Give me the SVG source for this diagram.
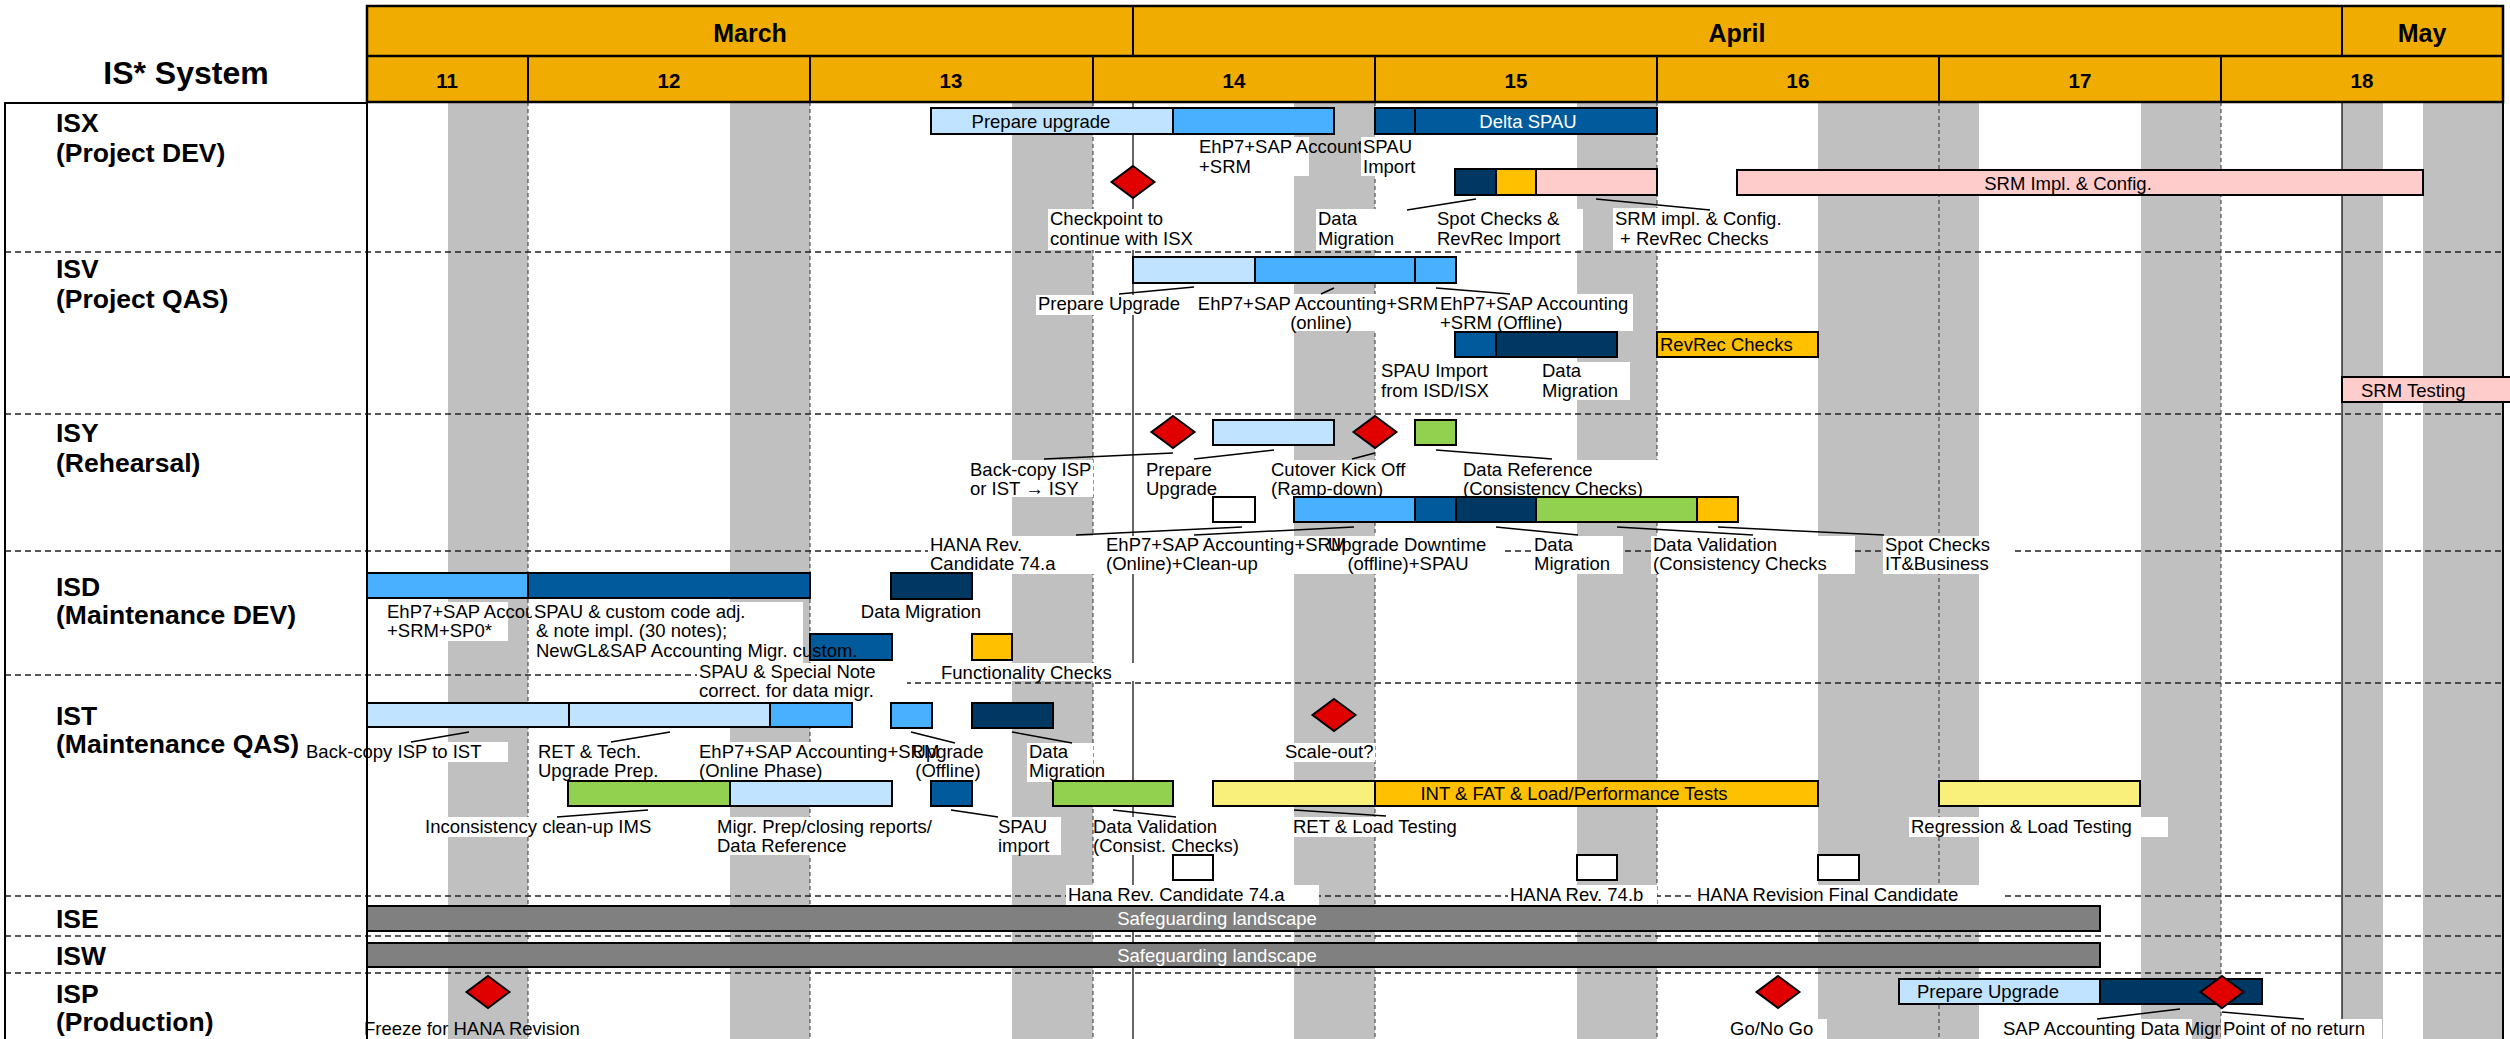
<svg xmlns="http://www.w3.org/2000/svg" xmlns:xlink="http://www.w3.org/1999/xlink" width="2510" height="1039" viewBox="0 0 2510 1039">
<style>
.t{font-family:"Liberation Sans",Arial,sans-serif;font-size:18.5px;fill:#000}
.c{text-anchor:middle}
.w{fill:#fff}
.hb{font-family:"Liberation Sans",Arial,sans-serif;font-weight:bold;fill:#000}
.mn{font-size:25px}
.wn{font-size:20.5px}
.rl{font-size:26.5px}
.bar{stroke:#000;stroke-width:2}
.lb{fill:#C0E4FF}.mb{fill:#48B0FF}.db{fill:#005A9C}.nv{fill:#003864}.am{fill:#FFC000}.pk{fill:#FFCCCC}.gr{fill:#92D050}.ye{fill:#F8F07A}.dg{fill:#808080}.wh{fill:#fff}
.bg{fill:#fff}
.sep{stroke:#222;stroke-width:1.5;stroke-dasharray:6 4;fill:none}
.wk{stroke:#333;stroke-width:1;stroke-dasharray:4 3}
.mo{stroke:#000;stroke-width:1.2}
.ld{stroke:#000;stroke-width:1.5;fill:none}
.we{fill:#C0C0C0}
</style>
<defs>
<path id="dia" d="M0,-16 L21.5,0 L0,16 L-21.5,0Z" fill="#E00000" stroke="#000" stroke-width="2"/>
</defs>
<rect x="0" y="0" width="2510" height="1039" fill="#fff"/>
<g id="weekends">
<rect class="we" x="448" y="102" width="80" height="937"/>
<rect class="we" x="730" y="102" width="80" height="937"/>
<rect class="we" x="1012" y="102" width="81" height="937"/>
<rect class="we" x="1294" y="102" width="81" height="937"/>
<rect class="we" x="1577" y="102" width="80" height="937"/>
<rect class="we" x="1818" y="102" width="161" height="937"/>
<rect class="we" x="2141" y="102" width="80" height="937"/>
<rect class="we" x="2342" y="102" width="41" height="937"/>
<rect class="we" x="2423" y="102" width="80" height="937"/>
</g>
<g id="grid">
<line class="wk" x1="528" y1="102" x2="528" y2="1039"/>
<line class="wk" x1="810" y1="102" x2="810" y2="1039"/>
<line class="wk" x1="1093" y1="102" x2="1093" y2="1039"/>
<line class="wk" x1="1375" y1="102" x2="1375" y2="1039"/>
<line class="wk" x1="1657" y1="102" x2="1657" y2="1039"/>
<line class="wk" x1="1939" y1="102" x2="1939" y2="1039"/>
<line class="wk" x1="2221" y1="102" x2="2221" y2="1039"/>
<line class="mo" x1="1133" y1="102" x2="1133" y2="1039"/>
<line class="mo" x1="2342" y1="102" x2="2342" y2="1039"/>
<line class="sep" x1="5" y1="252" x2="2503" y2="252"/>
<line class="sep" x1="5" y1="414" x2="2503" y2="414"/>
<line class="sep" x1="5" y1="551" x2="2503" y2="551"/>
<line class="sep" x1="5" y1="675" x2="700" y2="675"/>
<line class="sep" x1="905" y1="683" x2="2503" y2="683"/>
<line class="sep" x1="5" y1="896" x2="2503" y2="896"/>
<line class="sep" x1="5" y1="936" x2="2503" y2="936"/>
<line class="sep" x1="5" y1="973" x2="2503" y2="973"/>
<path d="M5,1039 V103 H367" stroke="#000" stroke-width="2" fill="none"/>
<line x1="367" y1="102" x2="367" y2="1039" stroke="#000" stroke-width="2"/>
<line x1="2503" y1="102" x2="2503" y2="1039" stroke="#000" stroke-width="2"/>
</g>
<g id="header">
<rect x="367" y="6" width="2136" height="96" fill="#F0AC00" stroke="#000" stroke-width="2.5"/>
<line x1="367" y1="56" x2="2503" y2="56" stroke="#000" stroke-width="2.5"/>
<line x1="1133" y1="6" x2="1133" y2="56" stroke="#000" stroke-width="2"/>
<line x1="2342" y1="6" x2="2342" y2="56" stroke="#000" stroke-width="2"/>
<g stroke="#000" stroke-width="2">
<line x1="528" y1="56" x2="528" y2="102"/><line x1="810" y1="56" x2="810" y2="102"/><line x1="1093" y1="56" x2="1093" y2="102"/><line x1="1375" y1="56" x2="1375" y2="102"/><line x1="1657" y1="56" x2="1657" y2="102"/><line x1="1939" y1="56" x2="1939" y2="102"/><line x1="2221" y1="56" x2="2221" y2="102"/>
</g>
<text class="hb c mn" x="750" y="42">March</text>
<text class="hb c mn" x="1737" y="42">April</text>
<text class="hb c mn" x="2422" y="42">May</text>
<text class="hb c wn" x="447" y="88">11</text><text class="hb c wn" x="669" y="88">12</text><text class="hb c wn" x="951" y="88">13</text><text class="hb c wn" x="1234" y="88">14</text><text class="hb c wn" x="1516" y="88">15</text><text class="hb c wn" x="1798" y="88">16</text><text class="hb c wn" x="2080" y="88">17</text><text class="hb c wn" x="2362" y="88">18</text>
<text class="hb c" style="font-size:32px" x="186" y="84">IS* System</text>
</g>
<g id="row-labels">
<text class="hb rl" x="56" y="132">ISX</text><text class="hb rl" x="56" y="162">(Project DEV)</text>
<text class="hb rl" x="56" y="278">ISV</text><text class="hb rl" x="56" y="308">(Project QAS)</text>
<text class="hb rl" x="56" y="442">ISY</text><text class="hb rl" x="56" y="472">(Rehearsal)</text>
<text class="hb rl" x="56" y="596">ISD</text><text class="hb rl" x="56" y="624">(Maintenance DEV)</text>
<text class="hb rl" x="56" y="725">IST</text><text class="hb rl" x="56" y="753">(Maintenance QAS)</text>
<text class="hb rl" x="56" y="928">ISE</text>
<text class="hb rl" x="56" y="965">ISW</text>
<text class="hb rl" x="56" y="1003">ISP</text><text class="hb rl" x="56" y="1031">(Production)</text>
</g>

<g id="isx-prepare"><rect class="bar lb" x="931" y="108" width="242" height="26"/><rect class="bar mb" x="1173" y="108" width="161" height="26"/><text class="t c" x="1041" y="128">Prepare upgrade</text></g>
<g id="isx-ehp7-label"><rect class="bg" x="1196" y="137" width="113" height="39"/><text class="t" x="1199" y="153">EhP7+SAP Account</text><text class="t" x="1199" y="173">+SRM</text></g>
<g id="isx-delta-spau"><rect class="bar db" x="1375" y="108" width="40" height="26"/><rect class="bar db" x="1415" y="108" width="242" height="26"/><text class="t c w" x="1528" y="128">Delta SPAU</text></g>
<g id="isx-spau-import-label"><rect class="bg" x="1361" y="137" width="54" height="39"/><text class="t" x="1363" y="153">SPAU</text><text class="t" x="1363" y="173">Import</text></g>
<g id="isx-checkpoint"><use href="#dia" x="1133" y="182"/><rect class="bg" x="1048" y="209" width="150" height="41"/><text class="t" x="1050" y="225">Checkpoint to</text><text class="t" x="1050" y="245">continue with ISX</text></g>
<g id="isx-impl-bars"><rect class="bar nv" x="1455" y="169" width="41" height="26"/><rect class="bar am" x="1496" y="169" width="40" height="26"/><rect class="bar pk" x="1536" y="169" width="121" height="26"/></g>
<g id="isx-data-migration-label"><rect class="bg" x="1316" y="209" width="82" height="41"/><text class="t" x="1318" y="225">Data</text><text class="t" x="1318" y="245">Migration</text></g>
<g id="isx-spot-checks-label"><rect class="bg" x="1435" y="209" width="148" height="41"/><text class="t" x="1437" y="225">Spot Checks &amp;</text><text class="t" x="1437" y="245">RevRec Import</text></g>
<g id="isx-srm-label"><rect class="bg" x="1613" y="208" width="172" height="42"/><text class="t" x="1615" y="225">SRM impl. &amp; Config.</text><text class="t" x="1620" y="245">+ RevRec Checks</text></g>
<g id="isx-srm-impl"><rect class="bar pk" x="1737" y="170" width="686" height="25"/><text class="t c" x="2068" y="190">SRM Impl. &amp; Config.</text></g>

<g id="isv-upgrade"><rect class="bar lb" x="1133" y="257" width="122" height="26"/><rect class="bar mb" x="1255" y="257" width="160" height="26"/><rect class="bar mb" x="1415" y="257" width="41" height="26"/></g>
<g id="isv-prepare-label"><rect class="bg" x="1036" y="295" width="147" height="20"/><text class="t" x="1038" y="310">Prepare Upgrade</text></g>
<g id="isv-online-label"><rect class="bg" x="1195" y="294" width="245" height="37"/><text class="t c" x="1318" y="310">EhP7+SAP Accounting+SRM</text><text class="t c" x="1321" y="329">(online)</text></g>
<g id="isv-offline-label"><rect class="bg" x="1441" y="294" width="192" height="37"/><text class="t" x="1440" y="310">EhP7+SAP Accounting</text><text class="t" x="1440" y="329">+SRM (Offline)</text></g>
<g id="isv-spau-data"><rect class="bar db" x="1455" y="332" width="41" height="25"/><rect class="bar nv" x="1496" y="332" width="121" height="25"/></g>
<g id="isv-spau-label"><text class="t" x="1381" y="377">SPAU Import</text><text class="t" x="1381" y="397">from ISD/ISX</text></g>
<g id="isv-data-mig-label"><rect class="bg" x="1540" y="362" width="90" height="38"/><text class="t" x="1542" y="377">Data</text><text class="t" x="1542" y="397">Migration</text></g>
<g id="isv-revrec"><rect class="bar am" x="1657" y="332" width="161" height="25"/><text class="t" x="1660" y="351">RevRec Checks</text></g>
<g id="isv-srm-testing"><rect class="bar pk" x="2342" y="377" width="180" height="25"/><text class="t" x="2361" y="397">SRM Testing</text></g>

<g id="isy-backcopy"><use href="#dia" x="1173" y="432"/><rect class="bg" x="968" y="460" width="125" height="37"/><text class="t" x="970" y="476">Back-copy ISP</text><text class="t" x="970" y="495">or IST → ISY</text></g>
<g id="isy-prepare"><rect class="bar lb" x="1213" y="420" width="121" height="25"/><rect class="bg" x="1144" y="460" width="69" height="36"/><text class="t" x="1146" y="476">Prepare</text><text class="t" x="1146" y="495">Upgrade</text></g>
<g id="isy-cutover"><use href="#dia" x="1375" y="432"/><rect class="bg" x="1269" y="460" width="146" height="36"/><text class="t" x="1271" y="476">Cutover Kick Off</text><text class="t" x="1271" y="495">(Ramp-down)</text></g>
<g id="isy-data-ref"><rect class="bar gr" x="1415" y="420" width="41" height="25"/><rect class="bg" x="1461" y="460" width="200" height="36"/><text class="t" x="1463" y="476">Data Reference</text><text class="t" x="1463" y="495">(Consistency Checks)</text></g>
<g id="isy-hana-box"><rect class="bar wh" x="1213" y="497" width="42" height="25"/></g>
<g id="isy-cutover-bar"><rect class="bar mb" x="1294" y="497" width="121" height="25"/><rect class="bar db" x="1415" y="497" width="41" height="25"/><rect class="bar nv" x="1456" y="497" width="80" height="25"/><rect class="bar gr" x="1536" y="497" width="161" height="25"/><rect class="bar am" x="1697" y="497" width="41" height="25"/></g>
<g id="isy-hana-label"><rect class="bg" x="928" y="536" width="176" height="38"/><text class="t" x="930" y="551">HANA Rev.</text><text class="t" x="930" y="570">Candidate 74.a</text></g>
<g id="isy-online-label"><rect class="bg" x="1104" y="536" width="246" height="38"/><text class="t" x="1106" y="551">EhP7+SAP Accounting+SRM</text><text class="t" x="1106" y="570">(Online)+Clean-up</text></g>
<g id="isy-downtime-label"><rect class="bg" x="1350" y="536" width="153" height="38"/><text class="t c" x="1407" y="551">Upgrade Downtime</text><text class="t c" x="1408" y="570">(offline)+SPAU</text></g>
<g id="isy-data-mig-label"><rect class="bg" x="1532" y="536" width="91" height="38"/><text class="t" x="1534" y="551">Data</text><text class="t" x="1534" y="570">Migration</text></g>
<g id="isy-validation-label"><rect class="bg" x="1651" y="536" width="204" height="38"/><text class="t" x="1653" y="551">Data Validation</text><text class="t" x="1653" y="570">(Consistency Checks</text></g>
<g id="isy-spot-label"><rect class="bg" x="1883" y="536" width="130" height="38"/><text class="t" x="1885" y="551">Spot Checks</text><text class="t" x="1885" y="570">IT&amp;Business</text></g>

<g id="isd-upgrade"><rect class="bar mb" x="367" y="573" width="161" height="25"/><rect class="bar db" x="528" y="573" width="282" height="25"/></g>
<g id="isd-ehp7-label"><rect class="bg" x="385" y="602" width="123" height="39"/><text class="t" x="387" y="618">EhP7+SAP Accou</text><text class="t" x="387" y="637">+SRM+SP0*</text></g>
<g id="isd-special"><rect class="bar db" x="810" y="634" width="82" height="26"/><rect class="bg" x="697" y="663" width="210" height="39"/><text class="t" x="699" y="678">SPAU &amp; Special Note</text><text class="t" x="699" y="697">correct. for data migr.</text></g>
<g id="isd-spau-label"><rect class="bg" x="532" y="602" width="271" height="61"/><text class="t" x="534" y="618">SPAU &amp; custom code adj.</text><text class="t" x="536" y="637">&amp; note impl. (30 notes);</text><text class="t" x="536" y="657">NewGL&amp;SAP Accounting Migr. custom.</text></g>
<g id="isd-data-migration"><rect class="bar nv" x="891" y="573" width="81" height="26"/><text class="t c" x="921" y="618">Data Migration</text></g>
<g id="isd-functionality"><rect class="bar am" x="972" y="634" width="40" height="26"/><rect class="bg" x="935" y="663" width="200" height="18"/><text class="t" x="941" y="679">Functionality Checks</text></g>

<g id="ist-backcopy"><rect class="bar lb" x="367" y="703" width="202" height="24"/><rect class="bg" x="369" y="742" width="139" height="20"/><text class="t" x="306" y="758">Back-copy ISP to IST</text></g>
<g id="ist-ret"><rect class="bar lb" x="569" y="703" width="201" height="24"/><rect class="bg" x="536" y="742" width="110" height="40"/><text class="t" x="538" y="758">RET &amp; Tech.</text><text class="t" x="538" y="777">Upgrade Prep.</text></g>
<g id="ist-online"><rect class="bar mb" x="770" y="703" width="82" height="24"/><rect class="bg" x="697" y="742" width="125" height="40"/><text class="t" x="699" y="758">EhP7+SAP Accounting+SRM</text><text class="t" x="699" y="777">(Online Phase)</text></g>
<g id="ist-offline"><rect class="bar mb" x="891" y="703" width="41" height="25"/><text class="t c" x="948" y="758">Upgrade</text><text class="t c" x="948" y="777">(Offline)</text></g>
<g id="ist-data-mig"><rect class="bar nv" x="972" y="703" width="81" height="25"/><rect class="bg" x="1027" y="743" width="66" height="39"/><text class="t" x="1029" y="758">Data</text><text class="t" x="1029" y="777">Migration</text></g>
<g id="ist-scaleout"><use href="#dia" x="1334" y="715"/><rect class="bg" x="1283" y="743" width="92" height="19"/><text class="t" x="1285" y="758">Scale-out?</text></g>
<g id="ist-inconsistency"><rect class="bar gr" x="568" y="781" width="162" height="25"/><rect class="bg" x="423" y="817" width="230" height="20"/><text class="t" x="425" y="833">Inconsistency clean-up IMS</text></g>
<g id="ist-migr-prep"><rect class="bar lb" x="730" y="781" width="162" height="25"/><rect class="bg" x="715" y="817" width="220" height="38"/><text class="t" x="717" y="833">Migr. Prep/closing reports/</text><text class="t" x="717" y="852">Data Reference</text></g>
<g id="ist-spau-import"><rect class="bar db" x="931" y="781" width="41" height="25"/><rect class="bg" x="996" y="817" width="65" height="38"/><text class="t" x="998" y="833">SPAU</text><text class="t" x="998" y="852">import</text></g>
<g id="ist-validation"><rect class="bar gr" x="1053" y="781" width="120" height="25"/><rect class="bg" x="1095" y="817" width="145" height="38"/><text class="t" x="1093" y="833">Data Validation</text><text class="t" x="1093" y="852">(Consist. Checks)</text></g>
<g id="ist-ret-load"><rect class="bar ye" x="1213" y="781" width="162" height="25"/><rect class="bg" x="1291" y="817" width="170" height="20"/><text class="t" x="1293" y="833">RET &amp; Load Testing</text></g>
<g id="ist-int-fat"><rect class="bar am" x="1375" y="781" width="443" height="25"/><text class="t c" x="1574" y="800">INT &amp; FAT &amp; Load/Performance Tests</text></g>
<g id="ist-regression"><rect class="bar ye" x="1939" y="781" width="201" height="25"/><rect class="bg" x="1909" y="817" width="259" height="20"/><text class="t" x="1911" y="833">Regression &amp; Load Testing</text></g>
<g id="ist-hana-74a"><rect class="bar wh" x="1173" y="855" width="40" height="25"/><rect class="bg" x="1066" y="885" width="253" height="20"/><text class="t" x="1068" y="901">Hana Rev. Candidate 74.a</text></g>
<g id="ist-hana-74b"><rect class="bar wh" x="1577" y="855" width="40" height="25"/><rect class="bg" x="1508" y="885" width="149" height="20"/><text class="t" x="1510" y="901">HANA Rev. 74.b</text></g>
<g id="ist-hana-final"><rect class="bar wh" x="1818" y="855" width="41" height="25"/><rect class="bg" x="1695" y="885" width="307" height="20"/><text class="t" x="1697" y="901">HANA Revision Final Candidate</text></g>

<g id="ise-safeguarding"><rect class="bar dg" x="367" y="906" width="1733" height="25"/><text class="t c w" x="1217" y="925">Safeguarding landscape</text></g>
<g id="isw-safeguarding"><rect class="bar dg" x="367" y="943" width="1733" height="24"/><text class="t c w" x="1217" y="962">Safeguarding landscape</text></g>

<g id="isp-freeze"><use href="#dia" x="488" y="992"/><text class="t" x="364" y="1035">Freeze for HANA Revision</text></g>
<g id="isp-gonogo"><use href="#dia" x="1778" y="992"/><rect class="bg" x="1728" y="1019" width="99" height="20"/><text class="t" x="1730" y="1035">Go/No Go</text></g>
<g id="isp-upgrade"><rect class="bar lb" x="1899" y="979" width="201" height="25"/><rect class="bar nv" x="2100" y="979" width="162" height="25"/><text class="t c" x="1988" y="998">Prepare Upgrade</text></g>
<g id="isp-data-migr-label"><rect class="bg" x="2001" y="1019" width="191" height="20"/><text class="t" x="2003" y="1035">SAP Accounting Data Migr</text></g>
<g id="isp-ponr"><use href="#dia" x="2222" y="992"/><rect class="bg" x="2221" y="1019" width="161" height="20"/><text class="t" x="2223" y="1035">Point of no return</text></g>

<g id="connectors" class="ld">
<line x1="1407" y1="210" x2="1476" y2="199"/>
<line x1="1596" y1="199" x2="1710" y2="210"/>
<line x1="1119" y1="294" x2="1194" y2="287"/>
<line x1="1321" y1="294" x2="1334" y2="288"/>
<line x1="1436" y1="288" x2="1510" y2="294"/>
<line x1="1044" y1="459" x2="1173" y2="453"/>
<line x1="1194" y1="459" x2="1274" y2="450"/>
<line x1="1352" y1="459" x2="1375" y2="453"/>
<line x1="1436" y1="450" x2="1552" y2="459"/>
<line x1="1076" y1="535" x2="1242" y2="527"/>
<line x1="1194" y1="535" x2="1354" y2="527"/>
<line x1="1496" y1="527" x2="1578" y2="535"/>
<line x1="1617" y1="527" x2="1753" y2="535"/>
<line x1="1718" y1="527" x2="1884" y2="535"/>
<line x1="411" y1="742" x2="469" y2="732"/>
<line x1="611" y1="742" x2="670" y2="732"/>
<line x1="911" y1="732" x2="955" y2="743"/>
<line x1="1012" y1="732" x2="1072" y2="743"/>
<line x1="557" y1="817" x2="648" y2="810"/>
<line x1="951" y1="810" x2="998" y2="817"/>
<line x1="1113" y1="810" x2="1176" y2="817"/>
<line x1="1294" y1="810" x2="1386" y2="816"/>
<line x1="2097" y1="1019" x2="2180" y2="1009"/>
<line x1="2222" y1="1012" x2="2304" y2="1019"/>
</g>
</svg>
